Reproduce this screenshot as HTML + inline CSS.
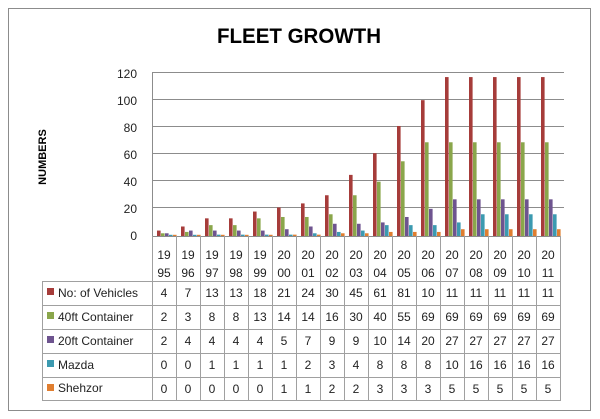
<!DOCTYPE html>
<html><head><meta charset="utf-8"><style>
html,body{margin:0;padding:0;background:#fff;}
svg{display:block;font-family:"Liberation Sans",sans-serif;}
</style></head><body>
<svg width="600" height="419" viewBox="0 0 600 419" xmlns="http://www.w3.org/2000/svg">
<rect x="8.5" y="8.5" width="582" height="402" fill="#fff" stroke="#8c8c8c"/>
<text x="299" y="43" text-anchor="middle" font-size="21" font-weight="bold" fill="#000" textLength="164" lengthAdjust="spacingAndGlyphs">FLEET GROWTH</text>
<text transform="translate(46,157) rotate(-90)" text-anchor="middle" font-size="11" font-weight="bold" fill="#000">NUMBERS</text>
<g stroke="#8c8c8c" stroke-width="1">
<line x1="152" y1="72.5" x2="564" y2="72.5"/>
<line x1="152" y1="99.5" x2="564" y2="99.5"/>
<line x1="152" y1="126.5" x2="564" y2="126.5"/>
<line x1="152" y1="153.5" x2="564" y2="153.5"/>
<line x1="152" y1="180.5" x2="564" y2="180.5"/>
<line x1="152" y1="207.5" x2="564" y2="207.5"/>
<line x1="152.5" y1="72" x2="152.5" y2="236"/>
<line x1="152" y1="236.5" x2="561" y2="236.5"/>
</g>
<g font-size="12" fill="#222" text-anchor="end">
<text x="137" y="78">120</text><text x="137" y="105">100</text><text x="137" y="132">80</text>
<text x="137" y="159">60</text><text x="137" y="186">40</text><text x="137" y="213">20</text><text x="137" y="240">0</text>
</g>
<g id="bars"></g>
<g stroke="#a0a0a0" stroke-width="1" fill="none">
<line x1="42.5" y1="281" x2="42.5" y2="400.5"/>
<line x1="42" y1="281.5" x2="561" y2="281.5"/>
<line x1="42" y1="305.5" x2="561" y2="305.5"/>
<line x1="42" y1="329.5" x2="561" y2="329.5"/>
<line x1="42" y1="353.5" x2="561" y2="353.5"/>
<line x1="42" y1="377.5" x2="561" y2="377.5"/>
<line x1="42" y1="400.5" x2="561" y2="400.5"/>
<g id="vl"></g>
</g>
<rect x="47" y="288" width="7" height="7" fill="#a63c3a"/>
<rect x="47" y="312" width="7" height="7" fill="#8aa64b"/>
<rect x="47" y="336" width="7" height="7" fill="#6e548f"/>
<rect x="47" y="360" width="7" height="7" fill="#3c9ab0"/>
<rect x="47" y="384" width="7" height="7" fill="#e07e30"/>
<g font-size="12" fill="#222">
<text x="58" y="297">No: of Vehicles</text>
<text x="58" y="321">40ft Container</text>
<text x="58" y="345">20ft Container</text>
<text x="58" y="369">Mazda</text>
<text x="58" y="392">Shehzor</text>
</g>
<g font-size="12" fill="#222" text-anchor="middle">
<text y="259"><tspan x="164">19</tspan><tspan x="188">19</tspan><tspan x="212">19</tspan><tspan x="236">19</tspan><tspan x="260">19</tspan><tspan x="284">20</tspan><tspan x="308">20</tspan><tspan x="332">20</tspan><tspan x="356">20</tspan><tspan x="380">20</tspan><tspan x="404">20</tspan><tspan x="428">20</tspan><tspan x="452">20</tspan><tspan x="476">20</tspan><tspan x="500">20</tspan><tspan x="524">20</tspan><tspan x="548">20</tspan></text>
<text y="277"><tspan x="164">95</tspan><tspan x="188">96</tspan><tspan x="212">97</tspan><tspan x="236">98</tspan><tspan x="260">99</tspan><tspan x="284">00</tspan><tspan x="308">01</tspan><tspan x="332">02</tspan><tspan x="356">03</tspan><tspan x="380">04</tspan><tspan x="404">05</tspan><tspan x="428">06</tspan><tspan x="452">07</tspan><tspan x="476">08</tspan><tspan x="500">09</tspan><tspan x="524">10</tspan><tspan x="548">11</tspan></text>
<text y="297"><tspan x="164">4</tspan><tspan x="188">7</tspan><tspan x="212">13</tspan><tspan x="236">13</tspan><tspan x="260">18</tspan><tspan x="284">21</tspan><tspan x="308">24</tspan><tspan x="332">30</tspan><tspan x="356">45</tspan><tspan x="380">61</tspan><tspan x="404">81</tspan><tspan x="428">10</tspan><tspan x="452">11</tspan><tspan x="476">11</tspan><tspan x="500">11</tspan><tspan x="524">11</tspan><tspan x="548">11</tspan></text>
<text y="321"><tspan x="164">2</tspan><tspan x="188">3</tspan><tspan x="212">8</tspan><tspan x="236">8</tspan><tspan x="260">13</tspan><tspan x="284">14</tspan><tspan x="308">14</tspan><tspan x="332">16</tspan><tspan x="356">30</tspan><tspan x="380">40</tspan><tspan x="404">55</tspan><tspan x="428">69</tspan><tspan x="452">69</tspan><tspan x="476">69</tspan><tspan x="500">69</tspan><tspan x="524">69</tspan><tspan x="548">69</tspan></text>
<text y="345"><tspan x="164">2</tspan><tspan x="188">4</tspan><tspan x="212">4</tspan><tspan x="236">4</tspan><tspan x="260">4</tspan><tspan x="284">5</tspan><tspan x="308">7</tspan><tspan x="332">9</tspan><tspan x="356">9</tspan><tspan x="380">10</tspan><tspan x="404">14</tspan><tspan x="428">20</tspan><tspan x="452">27</tspan><tspan x="476">27</tspan><tspan x="500">27</tspan><tspan x="524">27</tspan><tspan x="548">27</tspan></text>
<text y="369"><tspan x="164">0</tspan><tspan x="188">0</tspan><tspan x="212">1</tspan><tspan x="236">1</tspan><tspan x="260">1</tspan><tspan x="284">1</tspan><tspan x="308">2</tspan><tspan x="332">3</tspan><tspan x="356">4</tspan><tspan x="380">8</tspan><tspan x="404">8</tspan><tspan x="428">8</tspan><tspan x="452">10</tspan><tspan x="476">16</tspan><tspan x="500">16</tspan><tspan x="524">16</tspan><tspan x="548">16</tspan></text>
<text y="393"><tspan x="164">0</tspan><tspan x="188">0</tspan><tspan x="212">0</tspan><tspan x="236">0</tspan><tspan x="260">0</tspan><tspan x="284">1</tspan><tspan x="308">1</tspan><tspan x="332">2</tspan><tspan x="356">2</tspan><tspan x="380">3</tspan><tspan x="404">3</tspan><tspan x="428">3</tspan><tspan x="452">5</tspan><tspan x="476">5</tspan><tspan x="500">5</tspan><tspan x="524">5</tspan><tspan x="548">5</tspan></text>
</g>
<script>
(function(){
var NS="http://www.w3.org/2000/svg";
var d=[[4,7,13,13,18,21,24,30,45,61,81,100,117,117,117,117,117],
[2,3,8,8,13,14,14,16,30,40,55,69,69,69,69,69,69],
[2,4,4,4,4,5,7,9,9,10,14,20,27,27,27,27,27],
[0,0,1,1,1,1,2,3,4,8,8,8,10,16,16,16,16],
[0,0,0,0,0,1,1,2,2,3,3,3,5,5,5,5,5]];
var c=["#a63c3a","#8aa64b","#6e548f","#3c9ab0","#e07e30"];
var g=document.getElementById("bars");
for(var s=0;s<5;s++)for(var i=0;i<17;i++){
 var v=d[s][i],h=Math.max(v*163/120,1.2);
 var r=document.createElementNS(NS,"rect");
 r.setAttribute("x",152+24*i+5+4*s);r.setAttribute("y",236-h);
 r.setAttribute("width",3.6);r.setAttribute("height",h);r.setAttribute("fill",c[s]);
 g.appendChild(r);}
var vl=document.getElementById("vl");
for(var k=0;k<=17;k++){var x=152.5+24*k;var l=document.createElementNS(NS,"line");
 l.setAttribute("x1",x);l.setAttribute("x2",x);l.setAttribute("y1",236);l.setAttribute("y2",400.5);vl.appendChild(l);}
})();
</script>
</svg>
</body></html>
